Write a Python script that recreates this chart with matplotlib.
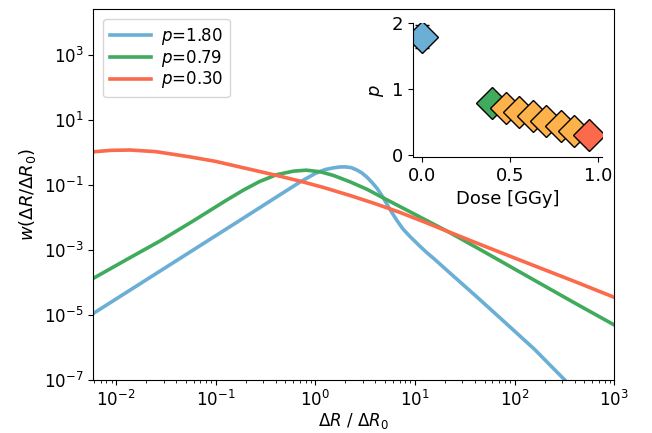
import numpy as np
import matplotlib.pyplot as plt

# curves (log10 x, log10 y)
blue_logx = [-2.23, -1.5, -0.75, -0.3, -0.15, 0.0, 0.1, 0.18, 0.25, 0.3, 0.36, 0.42, 0.47, 0.52,
             0.57, 0.62, 0.67, 0.72, 0.77, 0.82, 0.88, 0.95, 1.03, 1.12, 1.19, 1.35, 1.6, 1.86,
             2.2, 2.49, 2.7]
blue_logy = [-4.95, -3.53, -2.07, -1.19, -0.9, -0.64, -0.52, -0.47, -0.44, -0.44, -0.46, -0.54, -0.63, -0.76,
             -0.92, -1.1, -1.33, -1.59, -1.85, -2.09, -2.35, -2.58, -2.82, -3.08, -3.26, -3.7, -4.38, -5.1,
             -6.05, -6.95, -7.6]

green_logx = [-2.23, -1.9, -1.56, -1.23, -0.89, -0.72, -0.56, -0.39, -0.22, -0.09, 0.05, 0.18,
              0.35, 0.52, 0.68, 0.85, 1.1, 1.35, 1.7, 2.19, 2.6, 3.0]
green_logy = [-3.87, -3.3, -2.72, -2.11, -1.46, -1.15, -0.89, -0.68, -0.57, -0.54, -0.59, -0.7,
              -0.9, -1.13, -1.39, -1.66, -2.06, -2.46, -3.06, -3.91, -4.62, -5.3]

red_logx = [-2.23, -2.05, -1.86, -1.6, -1.26, -1.0, -0.76, -0.39, -0.15, 0.08, 0.35, 0.6, 0.85,
            1.1, 1.35, 1.7, 2.19, 2.6, 3.0]
red_logy = [0.025, 0.07, 0.08, 0.03, -0.13, -0.27, -0.44, -0.7, -0.88, -1.07, -1.32, -1.57, -1.84,
            -2.14, -2.45, -2.88, -3.47, -3.96, -4.45]

p_labels = ["1.80", "0.79", "0.30"]

# inset data
dose = [0.0, 0.395, 0.476, 0.552, 0.627, 0.703, 0.788, 0.864, 0.949]
p_vals = [1.80, 0.79, 0.71, 0.65, 0.60, 0.52, 0.44, 0.37, 0.30]
p_err = [0.17, 0.03, 0.03, 0.03, 0.03, 0.03, 0.03, 0.03, 0.03]

c_blue = "#6baed6"
c_green = "#41ab5d"
c_red = "#fb6a4a"
c_orange = "#feb24c"
point_colors = [c_blue, c_green] + [c_orange] * 6 + [c_red]

plt.rcParams["font.size"] = 12

fig = plt.figure(figsize=(6.52, 4.33), dpi=100)
ax = fig.add_axes([0.143, 0.122, 0.799, 0.857])

for lx, ly, c, lab in zip([blue_logx, green_logx, red_logx],
                          [blue_logy, green_logy, red_logy],
                          [c_blue, c_green, c_red], p_labels):
    ax.plot(10 ** np.array(lx), 10 ** np.array(ly), color=c, lw=2.6,
            label="$p$=" + lab, solid_joinstyle="round")

ax.set_xscale("log")
ax.set_yscale("log")
ax.set_xlim(5.9e-3, 1e3)
ax.set_ylim(1e-7, 2.6e4)
ax.set_yticks([1e-7, 1e-5, 1e-3, 1e-1, 1e1, 1e3])
ax.yaxis.set_minor_locator(plt.NullLocator())
ax.set_xlabel(r"$\Delta R$ / $\Delta R_0$", labelpad=1)
ax.set_ylabel(r"$w(\Delta R/\Delta R_0)$", fontsize=13)
ax.legend(loc="upper left", fontsize=12, handlelength=2.45,
          borderaxespad=0.6, labelspacing=0.05, handletextpad=0.6)

ins = fig.add_axes([0.633, 0.637, 0.29, 0.309])
for d, p, e, c in zip(dose, p_vals, p_err, point_colors):
    ins.errorbar(d, p, yerr=e, fmt="D", color=c, ms=16.5, mec="black",
                 mew=1, ecolor="black", elinewidth=1, capsize=5)
ins.set_xlim(-0.055, 1.02)
ins.set_ylim(-0.03, 2.0)
ins.set_xticks([0.0, 0.5, 1.0])
ins.set_yticks([0, 1, 2])
ins.tick_params(labelsize=13)
ins.spines["top"].set_visible(False)
ins.spines["right"].set_visible(False)
ins.set_xlabel("Dose [GGy]", fontsize=13)
ins.set_ylabel("$p$", fontsize=13)

fig.savefig("out.png", dpi=100)
